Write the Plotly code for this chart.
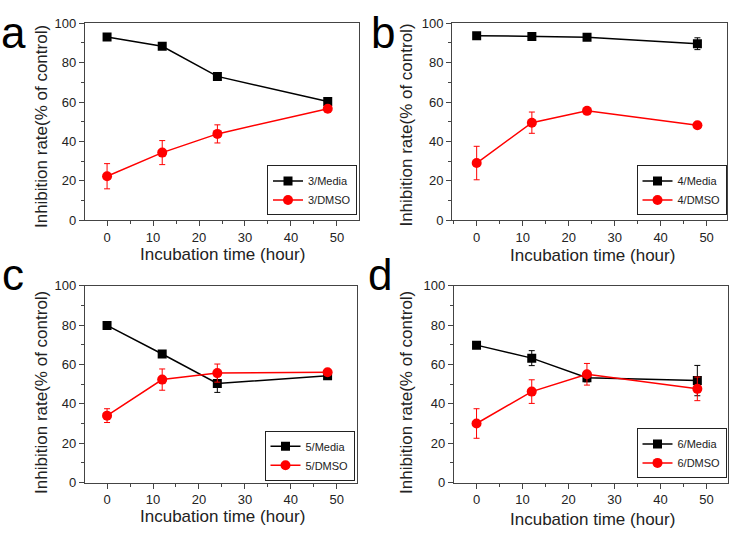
import plotly.graph_objects as go

W, H = 729, 535

time_h = [0, 12, 24, 48]

# Panel a (compound 3)
a_media = [93.0, 88.3, 73.0, 60.2]
a_media_err = [0.8, 0.8, 1.6, 1.0]
a_dmso = [22.3, 34.3, 43.8, 56.6]
a_dmso_err = [6.4, 6.1, 4.6, 0.8]

# Panel b (compound 4)
b_media = [93.7, 93.2, 92.9, 89.6]
b_media_err = [0.6, 0.5, 0.5, 3.0]
b_dmso = [29.0, 49.5, 55.5, 48.2]
b_dmso_err = [8.5, 5.4, 1.5, 0.8]

# Panel c (compound 5)
c_media = [79.8, 65.3, 50.3, 54.3]
c_media_err = [0.5, 0.6, 4.5, 0.8]
c_dmso = [34.0, 52.3, 55.6, 56.0]
c_dmso_err = [3.5, 5.4, 4.6, 0.8]

# Panel d (compound 6)
d_media = [69.8, 63.2, 53.2, 51.8]
d_media_err = [0.5, 3.8, 2.0, 7.7]
d_dmso = [30.0, 46.2, 55.0, 47.6]
d_dmso_err = [7.5, 6.0, 5.5, 6.0]

panel_letters = ["a", "b", "c", "d"]
media_names = ["3/Media", "4/Media", "5/Media", "6/Media"]
dmso_names = ["3/DMSO", "4/DMSO", "5/DMSO", "6/DMSO"]
x_title = "Incubation time (hour)"
y_title = "Inhibition rate(% of control)"
x_ticks = [0, 10, 20, 30, 40, 50]
y_ticks = [0, 20, 40, 60, 80, 100]

FONT = "Liberation Sans, Arial, sans-serif"

# pixel layout of each panel: (left, right, top, bottom, xmin, xmax)
panels = [
    (85, 359, 16.7, 219.3, -4.8, 54.8),
    (452.3, 727.3, 16.7, 219.3, -5.3, 54.5),
    (85, 357, 286.7, 489.3, -4.8, 54.4),
    (454, 727.7, 286.7, 489.3, -4.9, 54.6),
]
series = [
    (a_media, a_media_err, a_dmso, a_dmso_err),
    (b_media, b_media_err, b_dmso, b_dmso_err),
    (c_media, c_media_err, c_dmso, c_dmso_err),
    (d_media, d_media_err, d_dmso, d_dmso_err),
]
legend_pos = [(357, 214.5), (726.5, 214.5), (354.5, 487.5), (726.5, 485)]
# (x center, y, yanchor)
letter_pos = [(13, 0, "top"), (383, 0, "top"), (13, 275, "middle"), (380, 275, "middle")]
xtitle_pos = [(222, 255), (592, 255.5), (222, 524), (592, 527)]
ytitle_pos = [(41.5, 123), (406.5, 121.5), (41.5, 396.5), (406.5, 396.5)]

fig = go.Figure()
layout = dict(
    width=W, height=H, autosize=False,
    margin=dict(l=0, r=0, t=0, b=0),
    paper_bgcolor="white", plot_bgcolor="white",
    font=dict(family=FONT, color="#222", size=13),
    annotations=[],
)

def px2x(px):
    return px / W

def px2y(py):
    return 1 - py / H

for i in range(4):
    left, right, top, bottom, xmin, xmax = panels[i]
    med, med_err, dm, dm_err = series[i]
    sfx = "" if i == 0 else str(i + 1)
    xa = "x" + sfx
    ya = "y" + sfx
    lg = "legend" + sfx
    fig.add_trace(go.Scatter(
        x=time_h, y=med, name=media_names[i], mode="lines+markers",
        line=dict(color="black", width=1.5),
        marker=dict(symbol="square", size=9, color="black"),
        error_y=dict(type="data", array=med_err, color="black", thickness=1, width=3),
        xaxis=xa, yaxis=ya, legend=lg,
    ))
    fig.add_trace(go.Scatter(
        x=time_h, y=dm, name=dmso_names[i], mode="lines+markers",
        line=dict(color="red", width=1.5),
        marker=dict(symbol="circle", size=10, color="red"),
        error_y=dict(type="data", array=dm_err, color="red", thickness=1, width=3),
        xaxis=xa, yaxis=ya, legend=lg,
    ))
    common = dict(
        showgrid=False, zeroline=False, showline=True, linecolor="#444",
        linewidth=1.3, mirror=True, ticks="outside", tickcolor="#444",
        ticklen=5, tickwidth=1, tickfont=dict(size=13, family=FONT, color="#222"),
    )
    layout["xaxis" + sfx] = dict(
        common, domain=[px2x(left), px2x(right)], range=[xmin, xmax],
        tickvals=x_ticks, anchor=ya,
        minor=dict(ticks="outside", ticklen=3, tickcolor="#444", dtick=5, tick0=5, showgrid=False),
    )
    layout["yaxis" + sfx] = dict(
        common, domain=[px2y(bottom), px2y(top)], range=[0, 100],
        tickvals=y_ticks, anchor=xa,
        minor=dict(ticks="outside", ticklen=3, tickcolor="#444", dtick=10, tick0=10, showgrid=False),
    )
    lx, ly = legend_pos[i]
    layout[lg] = dict(
        x=px2x(lx), y=px2y(ly), xanchor="right", yanchor="bottom",
        xref="paper", yref="paper",
        bgcolor="white", bordercolor="#222", borderwidth=1,
        font=dict(size=11, family=FONT, color="#222"),
        tracegroupgap=0, itemwidth=30,
    )
    tx, ty = xtitle_pos[i]
    layout["annotations"].append(dict(
        text=x_title, x=px2x(tx), y=px2y(ty),
        xref="paper", yref="paper", xanchor="center", yanchor="middle",
        showarrow=False, font=dict(size=17, family=FONT, color="#222"),
    ))
    yx, yy = ytitle_pos[i]
    layout["annotations"].append(dict(
        text=y_title, x=px2x(yx), y=px2y(yy),
        xref="paper", yref="paper", xanchor="center", yanchor="middle",
        textangle=-90, showarrow=False, font=dict(size=17, family=FONT, color="#222"),
    ))
    ltx, lty, lanchor = letter_pos[i]
    layout["annotations"].append(dict(
        text=panel_letters[i], x=px2x(ltx), y=px2y(lty),
        xref="paper", yref="paper", xanchor="center", yanchor=lanchor,
        borderpad=0,
        showarrow=False, font=dict(size=44, family=FONT, color="black"),
    ))

fig.update_layout(**layout)
fig.write_html(
    "out.html",
    config={"displayModeBar": False},
    post_script="document.body.style.margin='0';document.body.style.overflow='hidden';",
)
